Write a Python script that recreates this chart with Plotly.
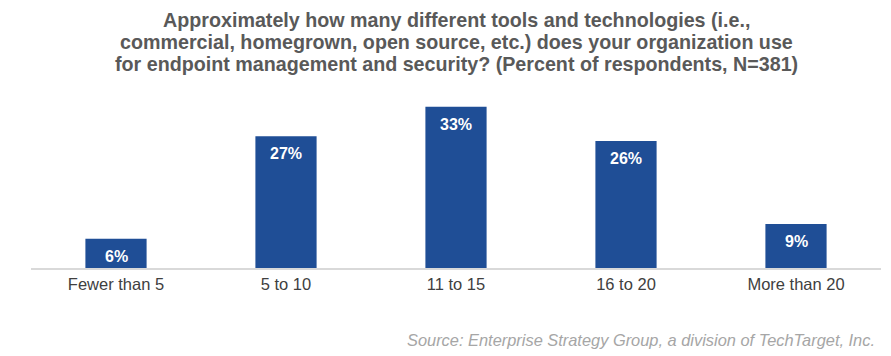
import plotly.graph_objects as go

categories = ["Fewer than 5", "5 to 10", "11 to 15", "16 to 20", "More than 20"]
values = [6, 27, 33, 26, 9]
labels = ["6%", "27%", "33%", "26%", "9%"]

title_lines = [
    "Approximately how many different tools and technologies (i.e.,",
    "commercial, homegrown, open source, etc.) does your organization use",
    "for endpoint management and security? (Percent of respondents, N=381)",
]
source_text = "Source: Enterprise Strategy Group, a division of TechTarget, Inc."

FONT = "Liberation Sans, Arial, sans-serif"

fig = go.Figure()
fig.add_trace(go.Bar(
    x=categories, y=values,
    marker=dict(color="#1F4E96", line=dict(width=0)),
    hoverinfo="skip",
))

for c, v, t in zip(categories, values, labels):
    fig.add_annotation(x=c, y=v, text="<b>%s</b>" % t, showarrow=False,
                       yanchor="top", yshift=-7,
                       font=dict(family=FONT, size=16, color="white"))

# title, one annotation per line for tight line spacing
for i, line in enumerate(title_lines):
    fig.add_annotation(x=0.5, xref="paper", xanchor="center",
                       y=1, yref="paper", yanchor="middle", yshift=80 - 22 * i,
                       text="<b>%s</b>" % line, showarrow=False,
                       font=dict(family=FONT, size=19.7, color="#595959"))

fig.add_annotation(x=1, xref="paper", xanchor="right", xshift=-4,
                   y=0, yref="paper", yanchor="middle", yshift=-72,
                   text="<i>%s</i>" % source_text, showarrow=False,
                   font=dict(family=FONT, size=16.4, color="#A6A6A6"))

# page has an 8px body margin; compensate so the canvas aligns with the window
fig.update_layout(
    width=883, height=348,
    margin=dict(l=23, r=10, t=92, b=88),
    paper_bgcolor="white", plot_bgcolor="white",
    bargap=0.64,
    showlegend=False,
    xaxis=dict(showline=True, linecolor="#D9D9D9", linewidth=1.5, ticks="",
               tickfont=dict(family=FONT, size=16.5, color="#404040")),
    yaxis=dict(visible=False, range=[0, 34.4], showgrid=False, zeroline=False),
)

fig.write_html("out.html")
